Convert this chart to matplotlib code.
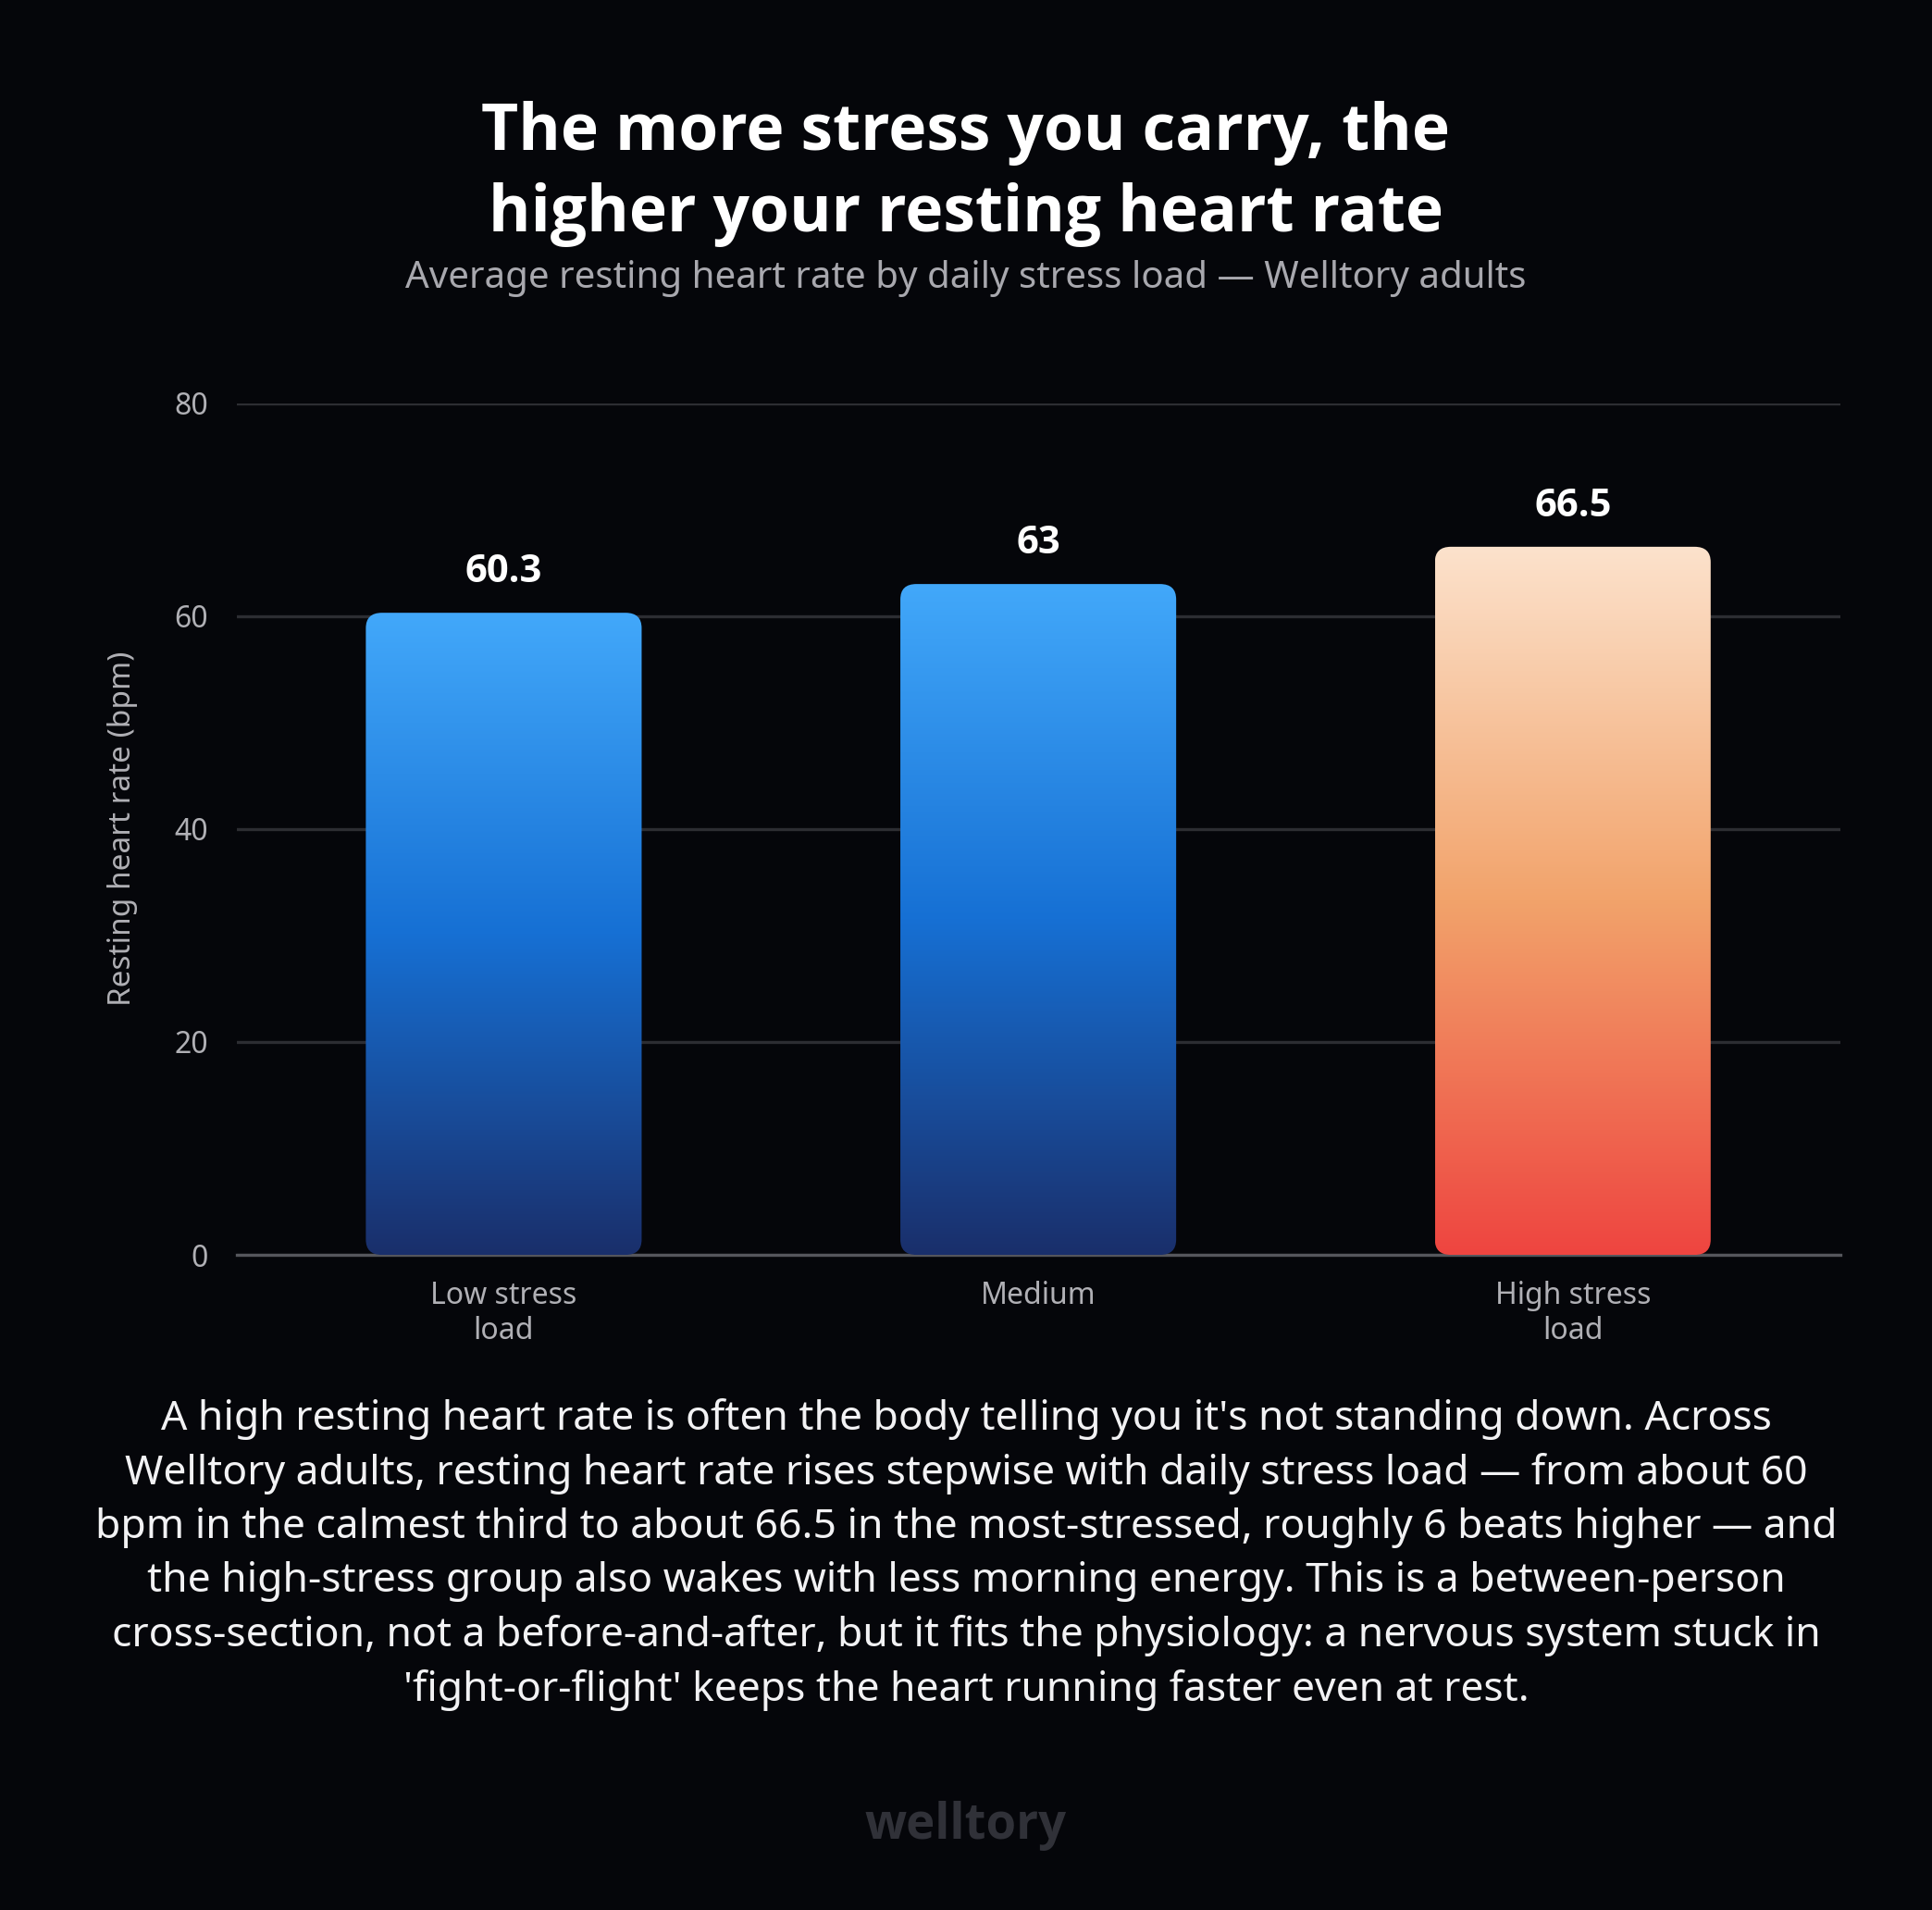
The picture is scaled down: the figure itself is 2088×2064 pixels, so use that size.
import matplotlib
matplotlib.use("Agg")
import matplotlib.pyplot as plt
import numpy as np
from matplotlib.patches import FancyBboxPatch
from matplotlib.colors import LinearSegmentedColormap

plt.rcParams['font.family'] = ['Noto Sans', 'DejaVu Sans']
BOLD = ['Open Sans', 'Lato', 'DejaVu Sans']

categories = ["Low stress\nload", "Medium", "High stress\nload"]
values = [60.3, 63, 66.5]
labels = ["60.3", "63", "66.5"]
yticks = [0, 20, 40, 60, 80]

bg = "#05060A"
fig = plt.figure(figsize=(10.44, 10.32), dpi=200, facecolor=bg)
ax = fig.add_axes([0.1224, 0.343, 0.830, 0.446], facecolor=bg)
ax.set_xlim(-0.5, 2.5)
ax.set_ylim(0, 80)

blue = LinearSegmentedColormap.from_list("b", ["#1A2F6B", "#1670D4", "#42A8FA"])
warm = LinearSegmentedColormap.from_list("w", ["#EE4540", "#F2A36B", "#FCE2CC"])
cmaps = [blue, blue, warm]
w = 0.516
grad = np.linspace(0, 1, 256).reshape(-1, 1)
for i, v in enumerate(values):
    patch = FancyBboxPatch((i - w/2, 0), w, v, boxstyle="round,pad=0,rounding_size=0.03",
                           mutation_aspect=48, facecolor="none", edgecolor="none", zorder=3)
    ax.add_patch(patch)
    im = ax.imshow(grad, extent=(i - w/2, i + w/2, 0, v), origin="lower", cmap=cmaps[i],
                   aspect="auto", zorder=3)
    im.set_clip_path(patch)
    ax.text(i, v + 2.0, labels[i], ha="center", va="bottom", color="white",
            fontsize=15, fontweight="bold", family=BOLD, zorder=4)

ax.set_aspect("auto")
ax.set_xlim(-0.5, 2.5)
ax.set_ylim(0, 80)
ax.set_yticks(yticks)
ax.set_yticklabels([str(t) for t in yticks])
ax.set_xticks(range(3))
ax.set_xticklabels(categories)
ax.grid(axis="y", color="#2C2D32", linewidth=1.2, zorder=0)
ax.set_axisbelow(True)
for s in ["top", "right", "left"]:
    ax.spines[s].set_visible(False)
ax.spines["bottom"].set_color("#55565C")
ax.spines["bottom"].set_linewidth(1.2)
ax.tick_params(axis="both", length=0, colors="#B0B0B5", labelsize=11.5)
ax.tick_params(axis="x", pad=10)
ax.tick_params(axis="y", pad=11)
ax.set_ylabel("Resting heart rate (bpm)", color="#B0B0B5", fontsize=12, labelpad=14)

fig.text(0.5, 0.947, "The more stress you carry, the\nhigher your resting heart rate", ha="center",
         va="top", color="white", fontsize=25, fontweight="bold", family=BOLD, linespacing=1.33)
fig.text(0.5, 0.854, "Average resting heart rate by daily stress load — Welltory adults",
         ha="center", va="center", color="#A8A8AE", fontsize=14.5)
body = ("A high resting heart rate is often the body telling you it's not standing down. Across\n"
        "Welltory adults, resting heart rate rises stepwise with daily stress load — from about 60\n"
        "bpm in the calmest third to about 66.5 in the most-stressed, roughly 6 beats higher — and\n"
        "the high-stress group also wakes with less morning energy. This is a between-person\n"
        "cross-section, not a before-and-after, but it fits the physiology: a nervous system stuck in\n"
        "'fight-or-flight' keeps the heart running faster even at rest.")
fig.text(0.5, 0.268, body, ha="center", va="top", color="#F2F2F4", fontsize=16, linespacing=1.42)
fig.text(0.5, 0.044, "welltory", ha="center", va="center", color="#303138", fontsize=19,
         fontweight="bold", family=BOLD)

fig.savefig("out.png", dpi=200, facecolor=bg)
